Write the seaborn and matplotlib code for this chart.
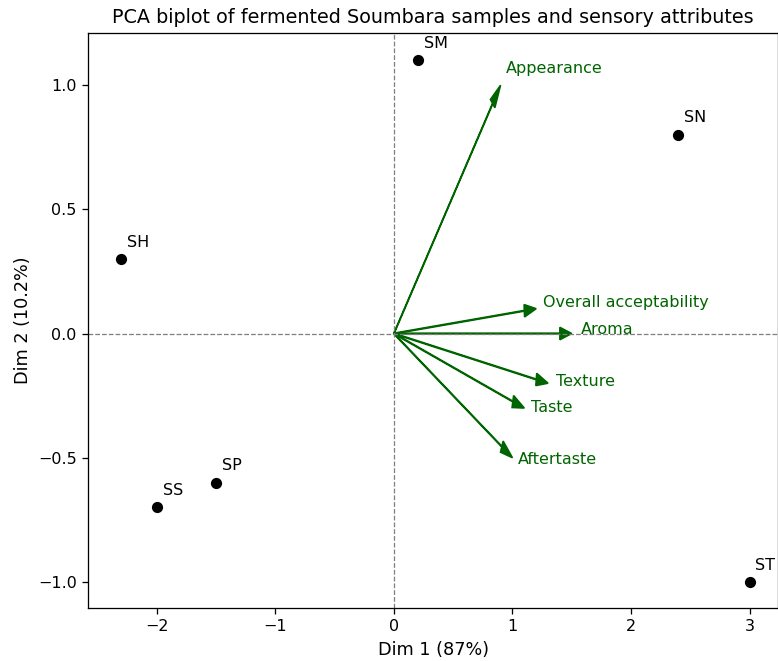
import matplotlib
matplotlib.use("Agg")
import matplotlib.pyplot as plt
import seaborn as sns
import pandas as pd

samples = ["SH", "SS", "SP", "SM", "SN", "ST"]
dim1 = [-2.3, -2.0, -1.5, 0.2, 2.4, 3.0]
dim2 = [0.3, -0.7, -0.6, 1.1, 0.8, -1.0]

attributes = ["Appearance", "Overall acceptability", "Aroma", "Texture", "Taste", "Aftertaste"]
load1 = [0.9, 1.2, 1.5, 1.3, 1.1, 1.0]
load2 = [1.0, 0.1, 0.0, -0.2, -0.3, -0.5]

df = pd.DataFrame({"sample": samples, "Dim1": dim1, "Dim2": dim2})

DPI = 115
fig, ax = plt.subplots(figsize=(778 / DPI, 661 / DPI), dpi=DPI)
sns.scatterplot(data=df, x="Dim1", y="Dim2", color="black", s=36, edgecolor="black",
                linewidth=1, ax=ax, zorder=3)
for s, x, y in zip(samples, dim1, dim2):
    ax.text(x + 0.05, y + 0.05, s, fontsize=10, color="black")

for a, x, y in zip(attributes, load1, load2):
    ax.arrow(0, 0, x, y, color="darkgreen", head_width=0.05, head_length=0.1,
             length_includes_head=True, width=0.003)
    ax.text(x * 1.05, y * 1.05, a, color="darkgreen", fontsize=10)

ax.axhline(0, color="grey", linestyle="--", linewidth=0.8)
ax.axvline(0, color="grey", linestyle="--", linewidth=0.8)
ax.set_xlim(-2.58, 3.24)
ax.set_ylim(-1.105, 1.21)
ax.set_xlabel("Dim 1 (87%)", fontsize=11)
ax.set_ylabel("Dim 2 (10.2%)", fontsize=11)
ax.set_title("PCA biplot of fermented Soumbara samples and sensory attributes", fontsize=12)
fig.subplots_adjust(left=88 / 778, right=1.0, top=1 - 33 / 661, bottom=1 - 608 / 661)
fig.savefig("out.png", dpi=DPI)
